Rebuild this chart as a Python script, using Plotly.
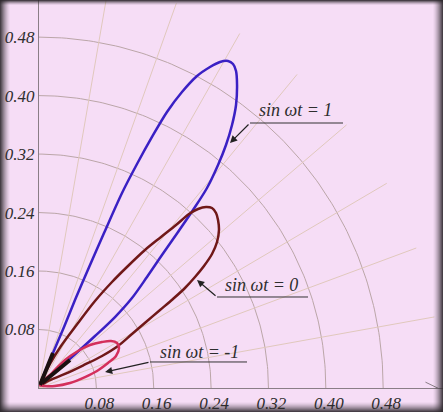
import numpy as np
import plotly.graph_objects as go

# tick labels
tick_vals = [0.08, 0.16, 0.24, 0.32, 0.40, 0.48]
tick_text = ["0.08", "0.16", "0.24", "0.32", "0.40", "0.48"]

# polar grid
grid_radii = [0.08, 0.16, 0.24, 0.32, 0.40, 0.48]
grid_angles = [10, 20, 30, 40, 50, 60, 70, 80]
grid_rmax = 0.56

# lobes
blue_x = [0.0014, 0.0195, 0.0349, 0.0502, 0.0669, 0.0907, 0.1158, 0.1367, 0.1576, 0.1785,
          0.1994, 0.2204, 0.2385, 0.2524, 0.2636, 0.2706, 0.2748, 0.2762, 0.2748, 0.2692,
          0.2608, 0.2497, 0.2343, 0.2148, 0.1939, 0.1715, 0.1506, 0.1297, 0.1060, 0.0781,
          0.0460, 0.0223, 0.0042, 0.0014]
blue_y = [0.0041, 0.0479, 0.0834, 0.1204, 0.1587, 0.2120, 0.2668, 0.3064, 0.3434, 0.3776,
          0.4049, 0.4268, 0.4391, 0.4460, 0.4473, 0.4432, 0.4337, 0.4145, 0.3871, 0.3598,
          0.3324, 0.3051, 0.2736, 0.2435, 0.2134, 0.1819, 0.1518, 0.1231, 0.0971, 0.0711,
          0.0424, 0.0219, 0.0068, 0.0041]

brown_x = [0.0014, 0.0153, 0.0307, 0.0544, 0.0781, 0.1018, 0.1241, 0.1478, 0.1702, 0.1911,
           0.2092, 0.2218, 0.2329, 0.2413, 0.2469, 0.2497, 0.2510, 0.2483, 0.2413, 0.2301,
           0.2176, 0.2036, 0.1869, 0.1688, 0.1492, 0.1297, 0.1102, 0.0879, 0.0628, 0.0363,
           0.0153, 0.0014]
brown_y = [0.0041, 0.0328, 0.0575, 0.0889, 0.1190, 0.1450, 0.1669, 0.1888, 0.2066, 0.2230,
           0.2380, 0.2449, 0.2476, 0.2462, 0.2394, 0.2298, 0.2161, 0.1997, 0.1833, 0.1669,
           0.1518, 0.1368, 0.1218, 0.1067, 0.0903, 0.0739, 0.0575, 0.0438, 0.0315, 0.0192,
           0.0109, 0.0041]

red_x = [0.0014, 0.0181, 0.0363, 0.0544, 0.0711, 0.0879, 0.1004, 0.1088, 0.1116, 0.1074,
         0.0962, 0.0809, 0.0642, 0.0432, 0.0223, 0.0084, 0.0014]
red_y = [0.0041, 0.0205, 0.0383, 0.0506, 0.0588, 0.0629, 0.0643, 0.0616, 0.0547, 0.0438,
         0.0342, 0.0233, 0.0150, 0.0068, 0.0027, 0.0027, 0.0041]

# dark stubs near the origin
stub1_x = [0.0014, 0.0195]
stub1_y = [0.0041, 0.0479]
stub2_x = [0.0042, 0.0432]
stub2_y = [0.0068, 0.0383]

# labels: text position, underline ends, arrow head
labels = ["sin ωt = 1", "sin ωt = 0", "sin ωt = -1"]
label_x = [0.3584, 0.3110, 0.2245]
label_y = [0.3803, 0.1409, 0.0492]
line_x0 = [0.2943, 0.2483, 0.1548]
line_x1 = [0.4240, 0.3752, 0.2901]
line_y = [0.3625, 0.1245, 0.0356]
head_x = [0.2664, 0.2204, 0.0921]
head_y = [0.3352, 0.1478, 0.0219]

BG = "#f6ddf6"
SERIF = "Liberation Serif"

fig = go.Figure()

for r in grid_radii:
    t = np.linspace(0, np.pi / 2, 120)
    fig.add_trace(go.Scatter(x=r * np.cos(t), y=r * np.sin(t), mode="lines",
                             line=dict(color="#bba6a8", width=1), hoverinfo="skip"))
for a in grid_angles:
    t = np.radians(a)
    fig.add_trace(go.Scatter(x=[0, grid_rmax * np.cos(t)], y=[0, grid_rmax * np.sin(t)],
                             mode="lines", line=dict(color="#e0c8bc", width=1),
                             hoverinfo="skip"))

for xs, ys, col in [(blue_x, blue_y, "#3a20c4"), (brown_x, brown_y, "#701818"),
                    (red_x, red_y, "#d42f5c")]:
    fig.add_trace(go.Scatter(x=xs, y=ys, mode="lines",
                             line=dict(color=col, width=2.5, shape="spline", smoothing=0.9)))

for xs, ys in [(stub1_x, stub1_y), (stub2_x, stub2_y)]:
    fig.add_trace(go.Scatter(x=xs, y=ys, mode="lines", line=dict(color="#1a1010", width=4)))

for i, txt in enumerate(labels):
    fig.add_annotation(x=label_x[i], y=label_y[i], text=txt, showarrow=False,
                       font=dict(family=SERIF, size=18, color="#2e2e2e", style="italic"))
    fig.add_shape(type="line", x0=line_x0[i], x1=line_x1[i], y0=line_y[i], y1=line_y[i],
                  line=dict(color="#333333", width=1))
    fig.add_annotation(x=head_x[i], y=head_y[i], ax=line_x0[i], ay=line_y[i],
                       axref="x", ayref="y", text="", showarrow=True,
                       arrowhead=2, arrowsize=1.2, arrowwidth=1.2, arrowcolor="#222222")

# corner zero
fig.add_annotation(x=-0.0126, y=-0.0164, text="0", showarrow=False,
                   font=dict(family=SERIF, size=17, color="#2e2e2e", style="italic"))

# arrow tip on the x axis
fig.add_shape(type="path", path="M 0.539 0.008 L 0.556 0 L 0.539 -0.008",
              line=dict(color="#8a7e86", width=1))

# dark frame round the picture (paper coords, plot area is 404 x 388 px)
def px2paper(px, py):
    return (px - 39) / 404, (388 - py) / 388

W, H = 443, 412
sides = {"left": 10, "top": 5, "right": 10, "bottom": 10}
for side, n in sides.items():
    for k in range(n):
        alpha = 0.88 * (1 - k / n) ** 1.5
        if side == "left":
            a, b = px2paper(k, 0), px2paper(k + 1, H)
        elif side == "right":
            a, b = px2paper(W - k - 1, 0), px2paper(W - k, H)
        elif side == "top":
            a, b = px2paper(0, k), px2paper(W, k + 1)
        else:
            a, b = px2paper(0, H - k - 1), px2paper(W, H - k)
        fig.add_shape(type="rect", xref="paper", yref="paper",
                      x0=a[0], x1=b[0], y0=a[1], y1=b[1],
                      fillcolor=f"rgba(45,40,45,{alpha:.3f})", line=dict(width=0),
                      layer="above")

axis_font = dict(family=SERIF, size=17, color="#2e2e2e", style="italic")
fig.update_layout(
    width=W, height=H,
    margin=dict(l=39, r=0, t=0, b=24),
    paper_bgcolor=BG, plot_bgcolor=BG,
    showlegend=False,
    xaxis=dict(range=[0, 404 / 717], tickvals=tick_vals, ticktext=tick_text,
               showgrid=False, zeroline=False, showline=True, linecolor="#8a7e86",
               ticks="", tickfont=axis_font, ticklabelshift=3),
    yaxis=dict(range=[0, 388 / 731], tickvals=tick_vals, ticktext=tick_text,
               showgrid=False, zeroline=False, showline=True, linecolor="#8a7e86",
               ticks="", tickfont=axis_font),
)

fig.write_html("out.html", config={"displayModeBar": False},
               post_script="document.body.style.margin='0';")
